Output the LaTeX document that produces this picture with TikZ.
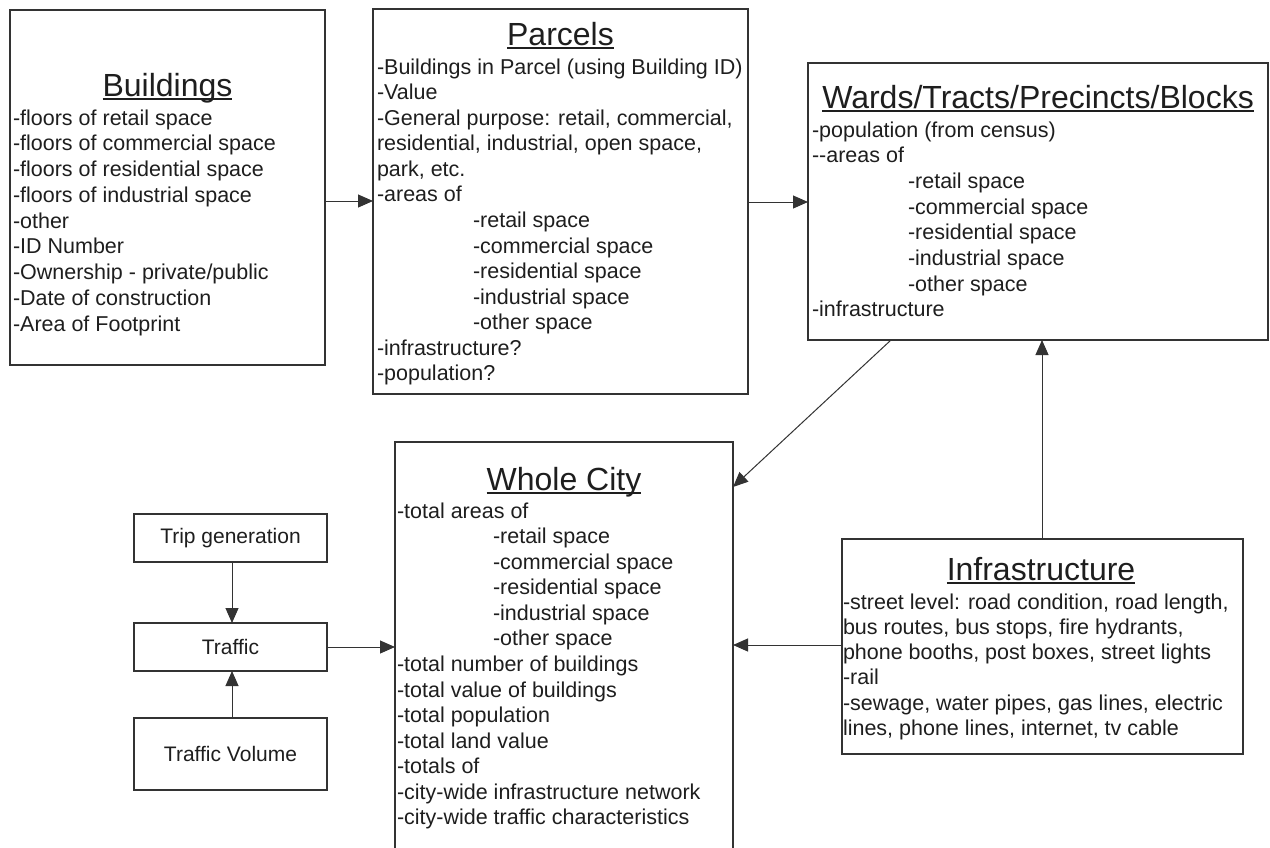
\documentclass[tikz,border=0pt]{standalone}
\usepackage{fontspec}
\setmainfont{Liberation Sans}
\usetikzlibrary{arrows.meta}
\definecolor{ink}{HTML}{1E1E1E}
\definecolor{edge}{HTML}{333333}
\tikzset{
 box/.style={draw=edge, line width=1.3pt, inner sep=0pt, outer sep=0pt, anchor=north west},
 txt/.style={inner sep=0pt, outer sep=0pt, anchor=base west, text=ink, font=\fontsize{21.5}{25}\selectfont},
 ttl/.style={inner sep=0pt, outer sep=0pt, anchor=base, text=ink, font=\fontsize{32}{36}\selectfont},
 small/.style={draw=edge, line width=1.1pt, inner sep=0pt, outer sep=0pt, anchor=north west, text=ink, font=\fontsize{21}{25}\selectfont},
 arr/.style={draw=edge, line width=1pt, -{Triangle[length=15pt,width=13pt]}},
 uline/.style={draw=ink, line width=1.5pt},
}
\newcommand\ind{\hspace*{96pt}}
\newcommand\boxlines[5]{%
 \foreach \ltext [count=\i from 0] in {#5}{\node[txt] (#1-\i) at (#2,#3+\i*#4) {\ltext};}}
\newcommand\boxtitle[4]{%
 \node[ttl] (#1) at (#2,#3) {#4};
 \draw[uline] ([yshift=-3pt]#1.base west) -- ([yshift=-3pt]#1.base east);}
\begin{document}
\begin{tikzpicture}[x=1pt,y=-1pt]
\path[fill=white,use as bounding box] (0,0) rectangle (1270,847);

% boxes
\node[box, minimum width=315pt, minimum height=355pt] (bld) at (10,10) {};
\node[box, minimum width=375pt, minimum height=385pt] (par) at (373,9) {};
\node[box, minimum width=460pt, minimum height=277pt] (wards) at (808,63) {};
\node[box, minimum width=338pt, minimum height=410pt] (city) at (395,442) {};
\node[box, minimum width=401pt, minimum height=215pt] (inf) at (842,539) {};
\node[small, minimum width=193pt, minimum height=48pt] (trip) at (134,514) {};
\node[small, minimum width=193pt, minimum height=48pt] (traffic) at (134,623) {};
\node[small, minimum width=193pt, minimum height=72pt] (vol) at (134,718) {};
\node[inner sep=0pt, text=ink, font=\fontsize{21}{25}\selectfont] (tripT) at (trip.center) {Trip generation};
\node[inner sep=0pt, text=ink, font=\fontsize{21}{25}\selectfont] (trafficT) at (traffic.center) {Traffic};
\node[inner sep=0pt, text=ink, font=\fontsize{21}{25}\selectfont] (volT) at (vol.center) {Traffic Volume};

% Buildings
\boxtitle{bldT}{167.5}{96}{Buildings}
\boxlines{bldL}{13}{125}{25.75}{-floors of retail space,-floors of commercial space,-floors of residential space,-floors of industrial space,-other,-ID Number,-Ownership - private/public,-Date of construction,-Area of Footprint}

% Parcels
\boxtitle{parT}{560.5}{45}{Parcels}
\boxlines{parL}{377}{74}{25.58}{-Buildings in Parcel (using Building ID),-Value,{-General purpose: retail, commercial,},{residential, industrial, open space,},{park, etc.},-areas of,\ind-retail space,\ind-commercial space,\ind-residential space,\ind-industrial space,\ind-other space,-infrastructure?,-population?}

% Wards
\boxtitle{wardsT}{1038}{108}{Wards/Tracts/Precincts/Blocks}
\boxlines{wardsL}{812}{137}{25.7}{-population (from census),-{}-areas of,\ind-retail space,\ind-commercial space,\ind-residential space,\ind-industrial space,\ind-other space,-infrastructure}

% Whole City
\boxtitle{cityT}{564}{490}{Whole City}
\boxlines{cityL}{397}{518}{25.58}{-total areas of,\ind-retail space,\ind-commercial space,\ind-residential space,\ind-industrial space,\ind-other space,-total number of buildings,-total value of buildings,-total population,-total land value,-totals of,-city-wide infrastructure network,-city-wide traffic characteristics}

% Infrastructure
\boxtitle{infT}{1041}{580}{Infrastructure}
\boxlines{infL}{843}{609}{25.3}{{-street level: road condition, road length,},{bus routes, bus stops, fire hydrants,},{phone booths, post boxes, street lights},-rail,{-sewage, water pipes, gas lines, electric},{lines, phone lines, internet, tv cable}}

% connectors
\draw[arr] (bld.east |- 0,201) -- (par.west |- 0,201);
\draw[arr] (par.east |- 0,202) -- (wards.west |- 0,202);
\draw[arr] (wards.south -| 891,0) -- (city.east |- 0,487);
\draw[arr] (inf.north -| 1042,0) -- (wards.south -| 1042,0);
\draw[arr] (inf.west |- 0,645) -- (city.east |- 0,645);
\draw[arr] (trip.south -| 232,0) -- (traffic.north -| 232,0);
\draw[arr] (vol.north -| 232,0) -- (traffic.south -| 232,0);
\draw[arr] (traffic.east |- 0,647) -- (city.west |- 0,647);
\end{tikzpicture}
\end{document}
